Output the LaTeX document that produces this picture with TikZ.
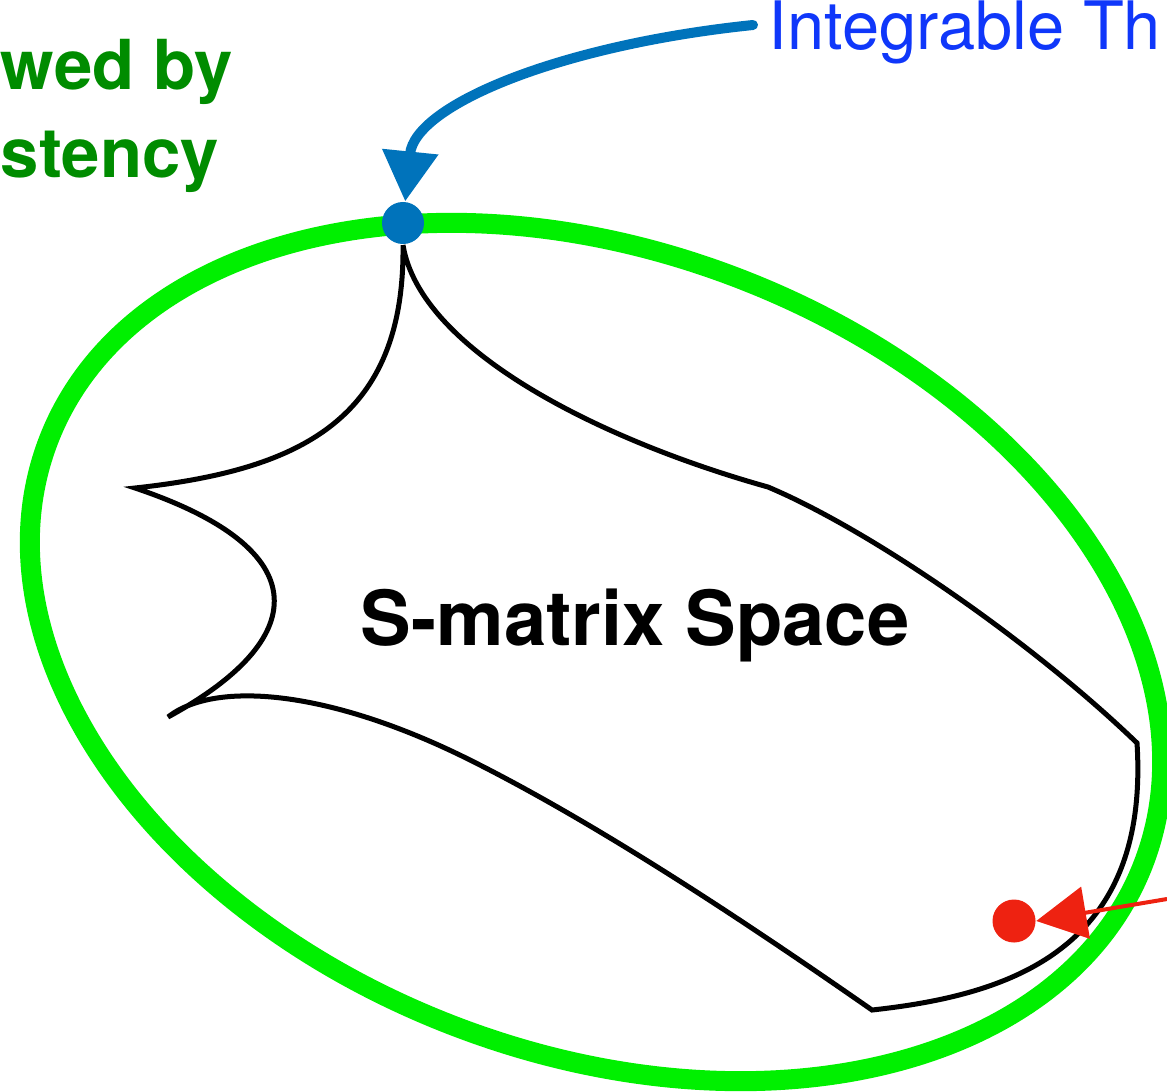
\documentclass[tikz,border=0pt]{standalone}
\usepackage{fontspec}
\setmainfont{TeX Gyre Heros}
\usetikzlibrary{arrows.meta}
\definecolor{okgreen}{RGB}{0,140,0}
\definecolor{ringgreen}{RGB}{0,240,0}
\definecolor{intblue}{RGB}{15,55,250}
\definecolor{arrowblue}{RGB}{0,115,187}
\definecolor{dotred}{RGB}{238,34,17}
\begin{document}
\begin{tikzpicture}[x=0.01cm,y=-0.01cm,
  dot/.style={circle,inner sep=0pt,minimum size=0.42cm},
  greentext/.style={anchor=base west,inner sep=0pt,text=okgreen,font=\fontsize{19.6pt}{24pt}\selectfont\bfseries},
  bluetext/.style={anchor=base west,inner sep=0pt,text=intblue,font=\fontsize{19pt}{23pt}\selectfont},
  spacetext/.style={anchor=base,inner sep=0pt,font=\fontsize{21.6pt}{26pt}\selectfont\bfseries},
  region/.style={line width=0.05cm,black}]
\useasboundingbox (0,0) rectangle (1167,1091);
% consistency ring
\draw[ringgreen,line width=0.2cm,rotate around={-21.2:(596,652)}] (596,652) ellipse [x radius=587,y radius=400];
% S-matrix region
\draw[region] (403,245) .. controls (405,420) and (300,470) .. (135,488)
  .. controls (320,550) and (310,640) .. (168,717)
  .. controls (215,680) and (330,690) .. (470,760)
  .. controls (600,825) and (750,925) .. (872,1010)
  .. controls (1010,995) and (1150,950) .. (1137,743)
  .. controls (1030,640) and (870,530) .. (768,487)
  .. controls (600,440) and (420,350) .. (403,245);
\node[spacetext] (space) at (635,645) {S-matrix Space};
% labels
\node[greentext] (allowed) at (0,90) {wed by};
\node[greentext] (consist) at (0,178) {stency};
\node[bluetext] (integ) at (768,50) {Integrable Th};
% points
\node[dot,fill=arrowblue] (integdot) at (403,223) {};
\node[dot,fill=dotred,minimum size=0.43cm] (reddot) at (1014,921) {};
% arrows
\coordinate (bluetail) at (753,25);
\coordinate (redtail) at (1167,899);
\draw[arrowblue,line width=0.1cm,line cap=round,-{Triangle[length=0.5cm,width=0.54cm]}]
  (bluetail) .. controls (560,45) and (415,105) .. (integdot);
\draw[dotred,line width=0.04cm,-{Triangle[length=0.5cm,width=0.52cm]}] (redtail) -- (reddot.east);
\end{tikzpicture}
\end{document}
